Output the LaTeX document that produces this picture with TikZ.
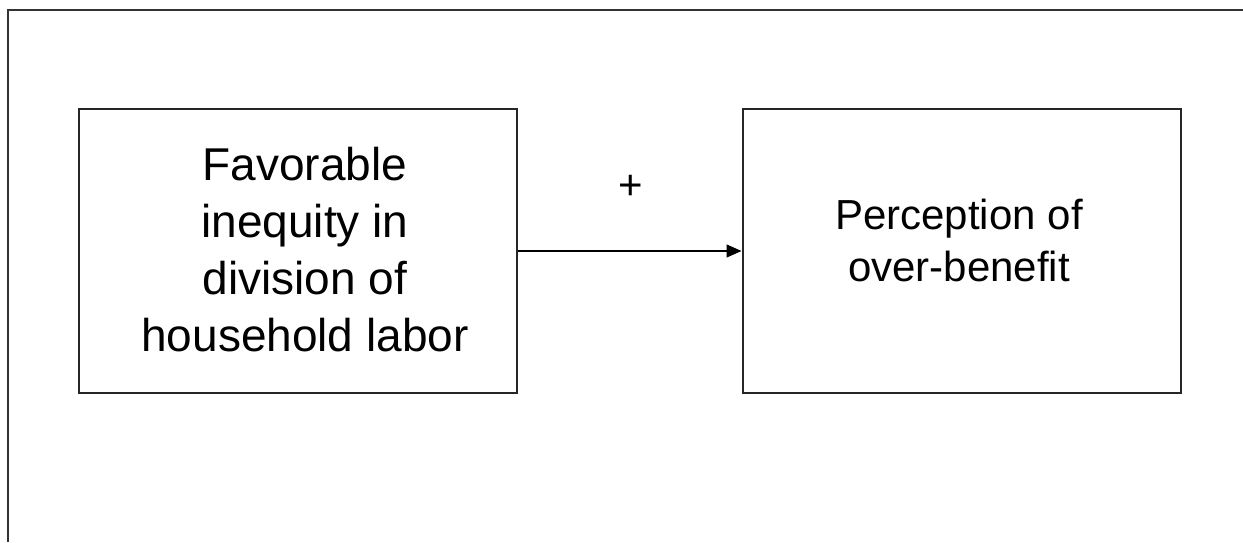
\documentclass[tikz,border=0pt]{standalone}
\usepackage{fontspec}
\setmainfont{Liberation Sans}
\usetikzlibrary{arrows.meta}
\begin{document}
\begin{tikzpicture}[x=1pt,y=-1pt,
  box/.style={draw=black!85, line width=2pt, minimum width=438pt, minimum height=284pt, inner sep=0pt},
  lefttxt/.style={align=center, font=\fontsize{46}{57}\selectfont, inner sep=0pt},
  righttxt/.style={align=center, font=\fontsize{42}{52}\selectfont, inner sep=0pt},
  conn/.style={line width=1.3pt, -{Triangle[length=15pt,width=13pt]}}]
\useasboundingbox (0,0) rectangle (1243,542);
\coordinate (bl) at (8,542);
\coordinate (tl) at (8,10);
\coordinate (tr) at (1243,10);
\draw[line width=2pt, black!80] (bl) -- (tl) -- (tr);
\node[box] (fav) at (298,251) {};
\node[lefttxt] (favtxt) at (305,250) {Favorable\\inequity in\\division of\\household labor};
\node[box] (perc) at (961.5,251) {};
\node[righttxt] (perctxt) at (959,240) {Perception of\\over-benefit};
\draw[conn] (fav.east) -- (perc.west);
\node[font=\fontsize{42}{50}\selectfont, inner sep=0pt] (plus) at (631,187) {+};
\end{tikzpicture}
\end{document}
